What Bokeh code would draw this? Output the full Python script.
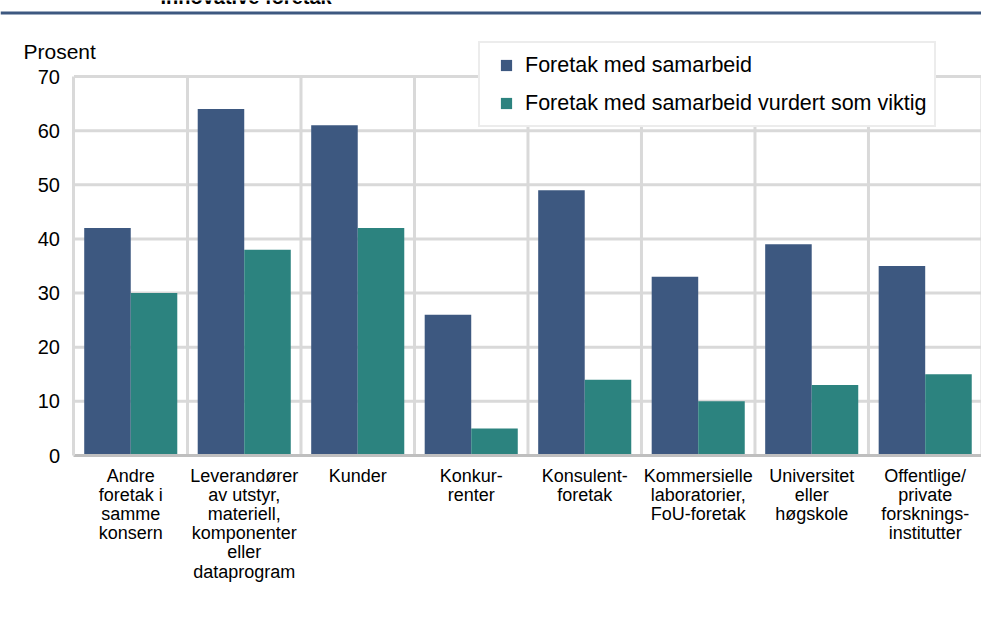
from bokeh.plotting import figure
from bokeh.models import (ColumnDataSource, FixedTicker, Legend, LegendItem,
                          Label, Range1d, Span)
from bokeh.transform import dodge
from bokeh.embed import file_html
from bokeh.resources import INLINE

# ---- data ----
title_text = "Innovative foretak"
categories = [
    "Andre\nforetak i\nsamme\nkonsern",
    "Leverandører\nav utstyr,\nmateriell,\nkomponenter\neller\ndataprogram",
    "Kunder",
    "Konkur-\nrenter",
    "Konsulent-\nforetak",
    "Kommersielle\nlaboratorier,\nFoU-foretak",
    "Universitet\neller\nhøgskole",
    "Offentlige/\nprivate\nforsknings-\ninstitutter",
]
samarbeid = [42, 64, 61, 26, 49, 33, 39, 35]
viktig = [30, 38, 42, 5, 14, 10, 13, 15]
series_names = ["Foretak med samarbeid", "Foretak med samarbeid vurdert som viktig"]
y_ticks = [0, 10, 20, 30, 40, 50, 60, 70]

BLUE = "#3D5880"
TEAL = "#2C837F"
GRID = "#D9D9D9"
FONT = "Liberation Sans"

n = len(categories)
centers = [i + 0.5 for i in range(n)]
boundaries = list(range(1, n + 1))
y_max = y_ticks[-1]

source = ColumnDataSource(dict(x=centers, samarbeid=samarbeid, viktig=viktig))
hgrid = ColumnDataSource(dict(y=y_ticks[1:]))
vgrid = ColumnDataSource(dict(x=boundaries))

W, H = 981, 617
p = figure(width=W, height=H, toolbar_location=None, output_backend="svg",
           x_range=Range1d(-0.6476, 7.996), y_range=Range1d(-29.92, 84.04),
           min_border=0,
           outline_line_color=None, background_fill_color="white", border_fill_color="white")

# grid lines (within the plotting area 0..n, 0..70)
p.segment(x0=0, y0="y", x1=n, y1="y", source=hgrid, line_color=GRID, line_width=3)
p.segment(x0="x", y0=0, x1="x", y1=y_max, source=vgrid, line_color=GRID, line_width=3)

bw = 0.41
p.vbar(x=dodge("x", -bw / 2, range=p.x_range), top="samarbeid", width=bw, source=source,
       fill_color=BLUE, line_color=None)
p.vbar(x=dodge("x", bw / 2, range=p.x_range), top="viktig", width=bw, source=source,
       fill_color=TEAL, line_color=None)

# legend proxies (zero-size markers)
r1 = p.scatter(x="x", y="samarbeid", source=source, size=0, marker="square",
               fill_color=BLUE, line_color=None)
r2 = p.scatter(x="x", y="viktig", source=source, size=0, marker="square",
               fill_color=TEAL, line_color=None)

p.grid.visible = False

# axes
p.xaxis.fixed_location = 0
p.xaxis.bounds = (0, n)
p.xaxis.ticker = FixedTicker(ticks=centers)
p.xaxis.major_label_overrides = {c: lab for c, lab in zip(centers, categories)}
p.xaxis.major_label_text_font = FONT
p.xaxis.major_label_text_font_size = "18px"
p.xaxis.major_label_text_line_height = 0.96
p.xaxis.major_label_text_color = "black"
p.xaxis.major_label_standoff = 10
p.xaxis.major_tick_line_color = None
p.xaxis.minor_tick_line_color = None
p.xaxis.major_tick_out = 0
p.xaxis.axis_line_color = "#BFBFBF"
p.xaxis.axis_line_width = 3

p.yaxis.fixed_location = 0
p.yaxis.bounds = (0, y_max)
p.yaxis.ticker = FixedTicker(ticks=y_ticks)
p.yaxis.major_label_text_font = FONT
p.yaxis.major_label_text_font_size = "20px"
p.yaxis.major_label_text_color = "black"
p.yaxis.major_label_standoff = 14
p.yaxis.major_tick_line_color = None
p.yaxis.minor_tick_line_color = None
p.yaxis.major_tick_out = 0
p.yaxis.axis_line_color = GRID
p.yaxis.axis_line_width = 3

# top rule and (cut-off) title
p.add_layout(Span(location=81.73, dimension="width", line_color=BLUE, line_width=3))
p.add_layout(Label(x=160, y=H + 4, x_units="screen", y_units="screen", text=title_text,
                   text_font=FONT, text_font_size="20px", text_font_style="bold",
                   text_baseline="alphabetic", text_color="black"))

p.add_layout(Label(x=23, y=H - 51, x_units="screen", y_units="screen", text="Prosent",
                   text_font=FONT, text_font_size="21px", text_baseline="alphabetic",
                   text_color="black"))

legend = Legend(items=[LegendItem(label=series_names[0], renderers=[r1]),
                       LegendItem(label=series_names[1], renderers=[r2])],
                location=(478, H - 127), orientation="vertical",
                glyph_width=36, glyph_height=28, label_standoff=1,
                padding=8, spacing=10, margin=0,
                label_text_font=FONT, label_text_font_size="21.5px", label_text_color="black",
                border_line_color=GRID, border_line_width=2,
                background_fill_color="white", background_fill_alpha=1)
p.add_layout(legend)

open("out.html", "w").write(file_html(p, INLINE))
